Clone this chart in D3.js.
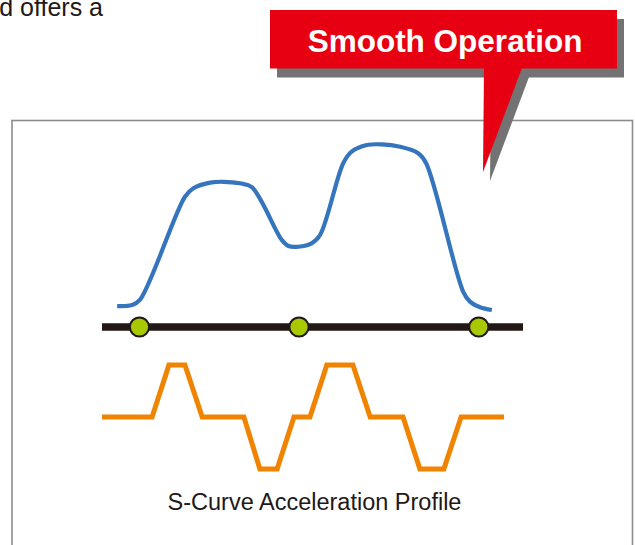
<!DOCTYPE html>
<html>
<head>
<meta charset="utf-8">
<script src="https://cdn.jsdelivr.net/npm/d3@7"></script>
<style>
  body { margin: 0; background: #fff; }
  svg { display: block; font-family: "Liberation Sans", Arial, sans-serif; }
</style>
</head>
<body>
<div id="chart"></div>
<script>
// time axis runs 0..100, speed 0..100, acceleration -1..1
var speedT = [3.6, 7.1, 9.0, 19.7, 21.7, 25.7, 28.8, 32.8, 35.6, 42.7, 44.3, 46.6, 49.8, 51.8, 57.3, 59.3, 62.9, 66.4, 70.8, 75.1, 77.0, 85.8, 87.4, 89.8, 92.6]
var speedV = [3.5, 4.1, 7.1, 67.8, 72.8, 76.1, 76.6, 75.7, 73.4, 42.4, 38.8, 38.4, 40.4, 45.3, 87.5, 94.3, 98.2, 98.6, 97.2, 93.4, 87.5, 11.9, 6.1, 2.8, 1.2]

var accT = [0, 11.9, 15.9, 19.7, 23.8, 33.7, 37.5, 41.6, 45.6, 49.4, 53.4, 59.6, 63.7, 71.5, 75.5, 81.2, 85.3, 95.5]
var accA = [0, 0, 1, 1, 0, 0, -1, -1, 0, 0, 1, 1, 0, 0, -1, -1, 0, 0]

var markerT = [8.9, 46.8, 89.5]

var calloutText = "Smooth Operation"
var captionText = "S-Curve Acceleration Profile"
var topText = "d offers a"

var width = 635,
  height = 545

var svg = d3.select("#chart")
  .append("svg")
  .attr("width", width)
  .attr("height", height)

// scales
var x = d3.scaleLinear().domain([0, 100]).range([102, 523])
var yV = d3.scaleLinear().domain([0, 100]).range([312, 142])
var yA = d3.scaleLinear().domain([-1, 1]).range([469, 365])
var axisY = 327

// frame (bottom runs off the page)
svg.append("rect")
  .attr("x", 12).attr("y", 120.5)
  .attr("width", 620.5).attr("height", 440)
  .attr("fill", "none")
  .attr("stroke", "#8c8c8c")
  .attr("stroke-width", 1.6)

// leftover text from the page
svg.append("text")
  .attr("x", 103).attr("y", 16)
  .attr("text-anchor", "end")
  .style("font-size", "25px")
  .attr("fill", "#231815")
  .text(topText)

// speed curve
var speed = speedT.map(function(t, i) { return { t: t, v: speedV[i] } })
svg.append("path")
  .datum(speed)
  .attr("fill", "none")
  .attr("stroke", "#3575be")
  .attr("stroke-width", 4.2)
  .attr("d", d3.line()
    .x(function(d) { return x(d.t) })
    .y(function(d) { return yV(d.v) })
    .curve(d3.curveCatmullRom.alpha(0.5)))

// time axis
svg.append("line")
  .attr("x1", x(0)).attr("x2", x(100))
  .attr("y1", axisY).attr("y2", axisY)
  .attr("stroke", "#231815")
  .attr("stroke-width", 7.5)

svg.append("g")
  .selectAll("circle")
  .data(markerT)
  .enter()
  .append("circle")
  .attr("cx", function(d) { return x(d) })
  .attr("cy", axisY)
  .attr("r", 9.6)
  .attr("fill", "#a8c800")
  .attr("stroke", "#231815")
  .attr("stroke-width", 2)

// acceleration profile
var acc = accT.map(function(t, i) { return { t: t, a: accA[i] } })
svg.append("path")
  .datum(acc)
  .attr("fill", "none")
  .attr("stroke", "#f08300")
  .attr("stroke-width", 5)
  .attr("stroke-linejoin", "miter")
  .attr("d", d3.line()
    .x(function(d) { return x(d.t) })
    .y(function(d) { return yA(d.a) }))

svg.append("text")
  .attr("x", 314.5).attr("y", 510)
  .attr("text-anchor", "middle")
  .style("font-size", "23.5px")
  .attr("fill", "#231815")
  .text(captionText)

// callout bubble with drop shadow
function bubble(g, dx, dy, fill) {
  g.append("rect")
    .attr("x", 270 + dx).attr("y", 10 + dy)
    .attr("width", 347).attr("height", 58.5)
    .attr("fill", fill)
  g.append("path")
    .attr("d", "M" + (484 + dx) + "," + (68 + dy) +
      "L" + (522 + dx) + "," + (68 + dy) +
      "L" + (483 + dx) + "," + (172 + dy) + "Z")
    .attr("fill", fill)
}
var callout = svg.append("g")
bubble(callout, 7, 9, "#737373")
bubble(callout, 0, 0, "#e60012")

callout.append("text")
  .attr("x", 445).attr("y", 51.5)
  .attr("text-anchor", "middle")
  .style("font-size", "31.5px")
  .style("font-weight", "bold")
  .attr("fill", "#fff")
  .text(calloutText)
</script>
</body>
</html>
